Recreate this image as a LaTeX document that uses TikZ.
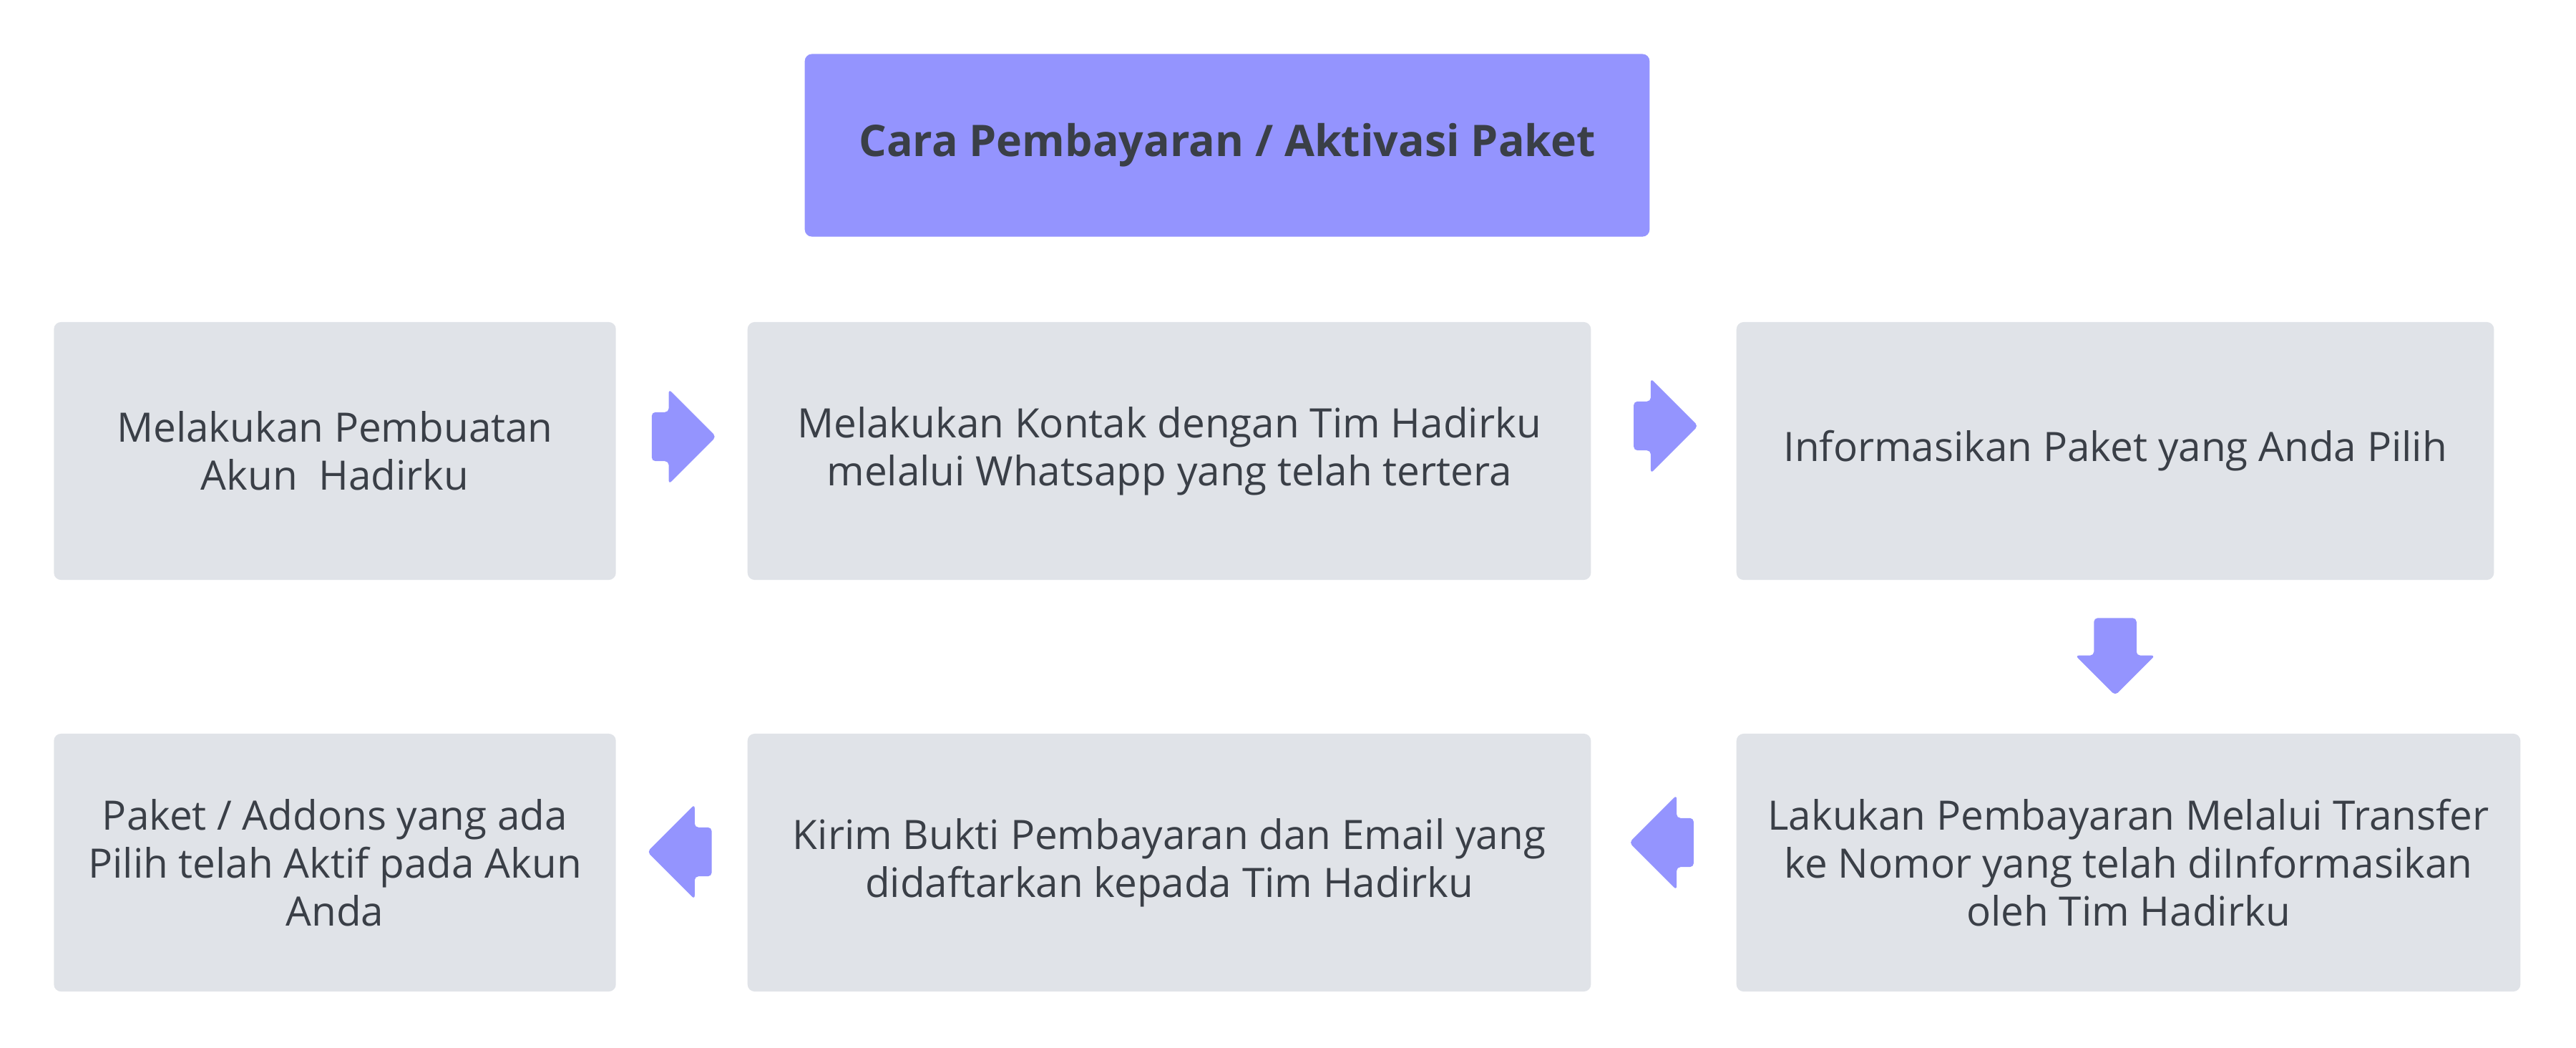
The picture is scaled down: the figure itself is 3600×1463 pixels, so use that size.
\documentclass[tikz,border=0pt]{standalone}
\usepackage{fontspec}
\setmainfont{Open Sans}
\usetikzlibrary{shapes.arrows,calc}
\definecolor{ungu}{HTML}{9494FE}
\definecolor{abu}{HTML}{E0E3E8}
\definecolor{teks}{HTML}{3A3F47}
\tikzstyle{kotak}=[fill=abu,rounded corners=.1cm,text=teks,align=center,minimum height=3.6cm,font=\fontsize{16.1}{19}\selectfont]
\tikzstyle{panah}=[single arrow,fill=ungu,draw=none,inner xsep=0pt,inner ysep=.335cm,single arrow head extend=.32cm,minimum height=.9cm,rounded corners=1.5pt]

\begin{document}
\begin{tikzpicture}[x=.01cm,y=-.01cm]
\useasboundingbox (0,0) rectangle (3600,1463);
\node[fill=ungu,rounded corners=.1cm,minimum width=11.8cm,minimum height=2.55cm,text=teks,font=\bfseries\fontsize{17.3}{21}\selectfont] (judul) at (1715,203) {Cara Pembayaran / Aktivasi Paket};
\node[kotak,minimum width=7.85cm] (buat) at (468,630) {Melakukan Pembuatan\\Akun\ \ Hadirku};
\node[kotak,minimum width=11.78cm] (kontak) at (1634,630) {Melakukan Kontak dengan Tim Hadirku\\melalui Whatsapp yang telah tertera};
\node[kotak,minimum width=10.58cm] (info) at (2956,630) {Informasikan Paket yang Anda Pilih};
\node[kotak,minimum width=10.95cm] (bayar) at (2974.5,1205) {Lakukan Pembayaran Melalui Transfer\\ke Nomor yang telah diInformasikan\\oleh Tim Hadirku};
\node[kotak,minimum width=11.78cm] (kirim) at (1634,1205) {Kirim Bukti Pembayaran dan Email yang\\didaftarkan kepada Tim Hadirku};
\node[kotak,minimum width=7.85cm] (aktif) at (468,1205) {Paket / Addons yang ada\\Pilih telah Aktif pada Akun\\Anda};
% panah
\node[panah,yshift=.2cm,xshift=-.14cm] (p1) at ($(buat.east)!.5!(kontak.west)$) {};
\node[panah,yshift=.35cm,xshift=-.14cm] (p2) at ($(kontak.east)!.5!(info.west)$) {};
\node[panah,rotate=-90,xshift=-.15cm,inner ysep=.29cm,single arrow head extend=.26cm,minimum height=1.08cm] (p3) at ($(info.south)!.5!(info.south |- bayar.north)$) {};
\node[panah,rotate=180,yshift=-.28cm,xshift=-.14cm] (p4) at ($(bayar.west)!.5!(kirim.east)$) {};
\node[panah,rotate=180,yshift=-.15cm,xshift=-.14cm] (p5) at ($(kirim.west)!.5!(aktif.east)$) {};
\end{tikzpicture}
\end{document}
